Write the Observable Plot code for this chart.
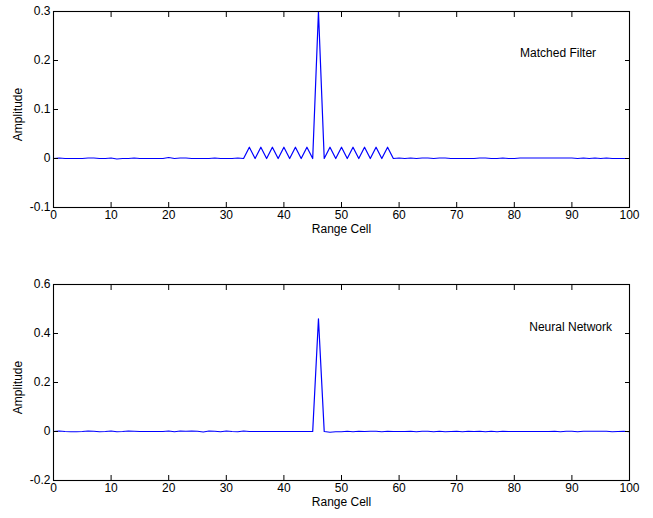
<!DOCTYPE html>
<html><head><meta charset="utf-8">
<script src="https://cdn.jsdelivr.net/npm/d3@7"></script>
<script src="https://cdn.jsdelivr.net/npm/@observablehq/plot@0.6"></script>
<style>
body{margin:0;background:#fff;}
#chart svg{display:block;}
</style></head>
<body><div id="chart"></div>
<script>
const rangeCells = [0,1,2,3,4,5,6,7,8,9,10,11,12,13,14,15,16,17,18,19,20,21,22,23,24,25,26,27,28,29,30,31,32,33,34,35,36,37,38,39,40,41,42,43,44,45,46,47,48,49,50,51,52,53,54,55,56,57,58,59,60,61,62,63,64,65,66,67,68,69,70,71,72,73,74,75,76,77,78,79,80,81,82,83,84,85,86,87,88,89,90,91,92,93,94,95,96,97,98,99,100];

const matchedFilter = [
  0, 0.001, 0, 0, 0, 0, 0.001, 0.001, 0, 0,
  0.001, -0.001, 0, 0, 0.001, 0, 0, 0, 0, 0,
  0.002, 0, 0.001, 0.001, 0, 0, 0, 0, 0.001, 0,
  0, 0, 0.001, 0, 0.023, 0, 0.023, 0, 0.023, 0,
  0.023, 0, 0.023, 0, 0.023, 0, 0.3, 0, 0.023, 0,
  0.023, 0, 0.023, 0, 0.023, 0, 0.023, 0, 0.023, 0,
  0.001, 0, 0.001, 0, 0.001, 0.001, 0, 0.001, 0.001, 0,
  0, 0, 0, 0, 0.001, 0.001, 0, 0, 0.001, 0,
  0, 0.001, 0.001, 0.001, 0.001, 0.001, 0.001, 0.001, 0.001, 0.001,
  0.001, 0, 0.001, 0, 0.001, 0, 0.001, 0, 0, 0,
  0
];

const neuralNetwork = [
  0, 0.002, 0, -0.001, -0.001, 0, 0.002, 0.001, -0.001, 0,
  0.002, -0.001, 0, 0.002, 0.001, 0, 0, 0, 0, 0,
  0.002, -0.001, 0.002, 0.001, 0.002, 0.001, -0.002, 0.002, 0.001, -0.001,
  0.002, 0, -0.001, 0.002, 0, 0, 0, 0, 0, 0,
  0, 0, 0, 0, 0, 0, 0.46, 0, -0.003, -0.001,
  -0.001, 0.001, -0.001, 0.001, 0, 0.001, 0.001, -0.001, 0.001, 0,
  0, 0, 0.001, -0.001, 0.001, 0.001, -0.001, 0.001, -0.001, 0,
  0.001, -0.001, 0.001, 0, 0.001, -0.001, 0.001, -0.001, 0.001, 0,
  0, 0, 0, 0, 0, 0, 0, 0.001, -0.001, 0.001,
  0.001, -0.001, 0.001, 0.001, 0.001, 0.001, 0.001, -0.001, 0, 0.001,
  -0.001
];

const xTicks = [0,10,20,30,40,50,60,70,80,90,100];
const xTickLabels = ["0","10","20","30","40","50","60","70","80","90","100"];
const yTicksTop = [-0.1, 0, 0.1, 0.2, 0.3];
const yTickLabelsTop = ["-0.1","0","0.1","0.2","0.3"];
const yTicksBottom = [-0.2, 0, 0.2, 0.4, 0.6];
const yTickLabelsBottom = ["-0.2","0","0.2","0.4","0.6"];

const xLabel = "Range Cell";
const yLabel = "Amplitude";
const annotTop = {x: [81], y: [0.215], text: ["Matched Filter"]};
const annotBottom = {x: [82.6], y: [0.425], text: ["Neural Network"]};

const FONT = "'Liberation Sans', Arial, Helvetica, sans-serif";

function panel(values, yDomain, yTicks, yTickLabels, annot, mTop, mBottom) {
  const data = rangeCells.map((c, i) => ({cell: c, amp: values[i]}));
  const xfmt = d => xTickLabels[xTicks.indexOf(d)];
  const yfmt = d => yTickLabels[yTicks.findIndex(t => Math.abs(t - d) < 1e-9)];
  const ann = annot.x.map((x, i) => ({x, y: annot.y[i], t: annot.text[i]}));
  return Plot.plot({
    width: 653, height: 259,
    marginTop: mTop, marginBottom: mBottom, marginLeft: 53, marginRight: 24,
    style: {fontFamily: FONT, fontSize: "12px", background: "white", color: "black"},
    x: {domain: [0, 100]},
    y: {domain: yDomain},
    marks: [
      Plot.line(data, {x: "cell", y: "amp", stroke: "#0000ff", strokeWidth: 1.2}),
      Plot.frame({stroke: "black", strokeWidth: 1.1}),
      Plot.axisX({anchor: "bottom", ticks: xTicks, tickSize: -5, tickPadding: 8, tickFormat: xfmt, fontSize: 12, label: null}),
      Plot.axisX({anchor: "top", ticks: xTicks, tickSize: -5, tickFormat: () => "", label: null}),
      Plot.axisY({anchor: "left", ticks: yTicks, tickSize: -5, tickPadding: 8, tickFormat: yfmt, fontSize: 12, label: null}),
      Plot.axisY({anchor: "right", ticks: yTicks, tickSize: -5, tickFormat: () => "", label: null}),
      Plot.text([xLabel], {frameAnchor: "bottom", text: d => d, dy: 25, fontSize: 12, letterSpacing: "-0.4px"}),
      Plot.text([yLabel], {frameAnchor: "left", text: d => d, rotate: -90, textAnchor: "middle", lineAnchor: "middle", dx: -35, dy: 5, fontSize: 12, letterSpacing: "-0.4px"}),
      Plot.text(ann, {x: "x", y: "y", text: "t", textAnchor: "start", fontSize: 12, letterSpacing: "-0.5px"})
    ]
  });
}

const el = document.getElementById("chart");
el.appendChild(panel(matchedFilter, [-0.1, 0.3], yTicksTop, yTickLabelsTop, annotTop, 11, 52));
el.appendChild(panel(neuralNetwork, [-0.2, 0.6], yTicksBottom, yTickLabelsBottom, annotBottom, 25, 38));
</script>
</body></html>
